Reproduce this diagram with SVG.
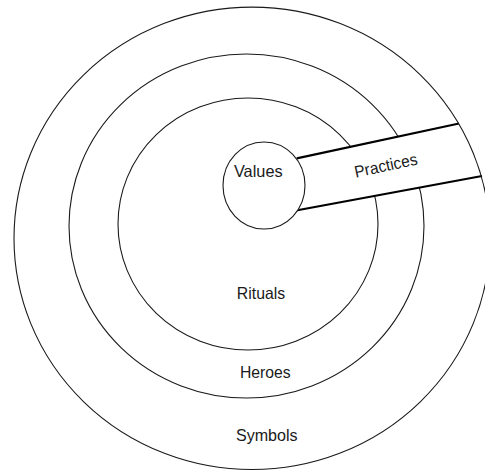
<svg xmlns="http://www.w3.org/2000/svg" width="485" height="471" viewBox="0 0 485 471">
<style>
.ring{fill:none;stroke:#1a1a1a;stroke-width:1.1}
.core{fill:#fff;stroke:#1a1a1a;stroke-width:1.1}
.band{fill:#fff;stroke:none}
.edge{stroke:#000;stroke-width:2.2;fill:none}
.lbl{font-family:"Liberation Sans",Arial,sans-serif;font-size:16.5px;fill:#1a1a1a;text-anchor:middle}
</style>
<rect width="485" height="471" fill="#fff"/>
<g id="heroes">
<ellipse class="ring" cx="246.5" cy="226" rx="177.5" ry="172"/>
<text class="lbl" x="265.3" y="377.7" textLength="50.7" lengthAdjust="spacingAndGlyphs">Heroes</text>
</g>
<g id="rituals">
<ellipse class="ring" cx="248" cy="224" rx="130" ry="126"/>
<text class="lbl" x="261" y="299.3" textLength="48.3" lengthAdjust="spacingAndGlyphs">Rituals</text>
</g>
<g id="practices">
<polygon class="band" points="296.7,158.3 459,123.5 482,176 296,210"/>
<line class="edge" x1="296.7" y1="158.3" x2="459" y2="123.5"/>
<line class="edge" x1="296" y1="210.5" x2="482" y2="176"/>
<text class="lbl" x="387" y="171" textLength="64" lengthAdjust="spacingAndGlyphs" transform="rotate(-12 387 171)">Practices</text>
</g>
<g id="symbols">
<ellipse class="ring" cx="252" cy="238.3" rx="238" ry="231.2"/>
<text class="lbl" x="266.8" y="441" textLength="61.7" lengthAdjust="spacingAndGlyphs">Symbols</text>
</g>
<g id="values">
<ellipse class="core" cx="264" cy="185.5" rx="41" ry="43.5"/>
<text class="lbl" x="258.3" y="177.3" textLength="48.7" lengthAdjust="spacingAndGlyphs">Values</text>
</g>
</svg>
